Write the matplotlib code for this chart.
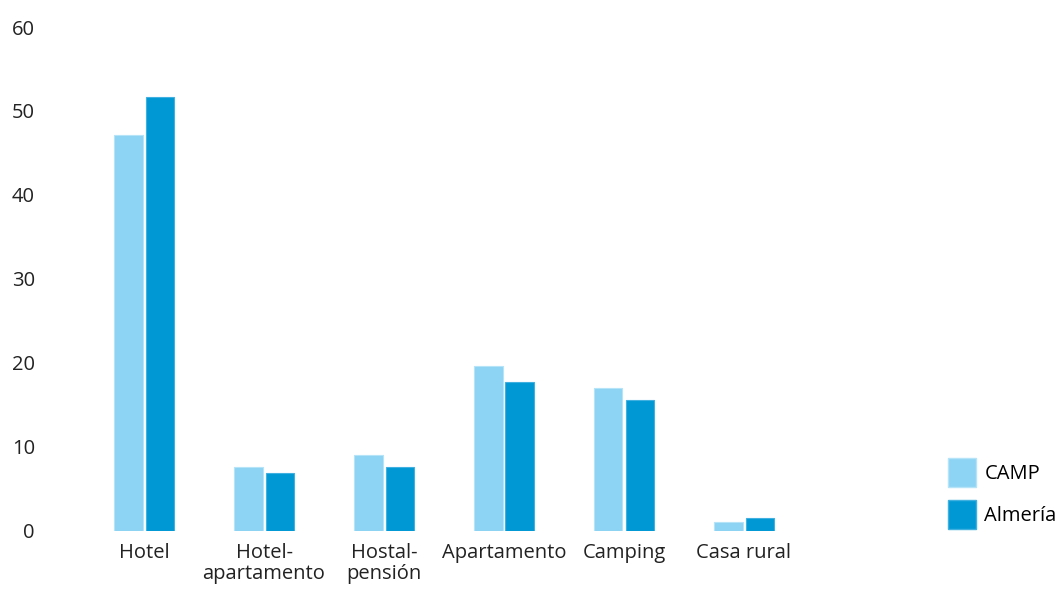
import numpy as np
import matplotlib.pyplot as plt
from matplotlib.patches import Patch

# Tipo de alojamiento (%)
categories = ["Hotel", "Hotel-\napartamento", "Hostal-\npensión", "Apartamento", "Camping", "Casa rural"]
camp = [47.1, 7.6, 9.0, 19.6, 17.0, 1.0]
almeria = [51.6, 6.9, 7.6, 17.7, 15.6, 1.5]
series_names = ["CAMP", "Almería"]
yticks = [0, 10, 20, 30, 40, 50, 60]

light = "#8DD3F3"
dark = "#0098D4"

plt.rcParams['font.family'] = ['Open Sans', 'DejaVu Sans']

W, H = 1063, 589
fig = plt.figure(figsize=(W / 100, H / 100), dpi=100)
# axes placed in pixels: x from 60 to 900, y-axis zero at 530 and 60 at 27
ax = fig.add_axes([60 / W, (H - 530.5) / H, 840 / W, (530.5 - 27) / H])

x = np.arange(len(categories))
w = 0.235
ax.bar(x - 0.13, camp, w, color=light, edgecolor="#b5e3f8", linewidth=0.8)
ax.bar(x + 0.13, almeria, w, color=dark, edgecolor="#3fb0e0", linewidth=0.8)

# category i centred at 144 + 120*i px
ax.set_xlim(-(144 - 60) / 120, (900 - 144) / 120)
ax.set_ylim(0, 60)
ax.set_yticks(yticks)
ax.set_xticks(x)
ax.set_xticklabels(categories, fontsize=14.5, linespacing=1.05)
ax.tick_params(axis='y', labelsize=14.5, length=0, pad=18, colors="#222222")
ax.tick_params(axis='x', length=0, pad=9, colors="#222222")
for s in ax.spines.values():
    s.set_visible(False)

handles = [Patch(facecolor=light, edgecolor="#b5e3f8"), Patch(facecolor=dark, edgecolor="#3fb0e0")]
fig.legend(handles, series_names, loc="upper left", bbox_to_anchor=(930 / W, (H - 440) / H),
           frameon=False, fontsize=14.5, handlelength=1.4, handleheight=1.85,
           handletextpad=0.4, labelspacing=0.62)

fig.savefig("out.png", dpi=100)
